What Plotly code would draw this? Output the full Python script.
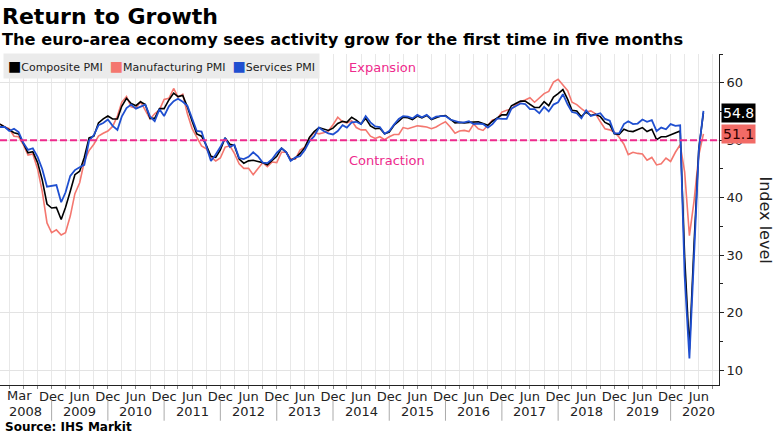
import pandas as pd
import plotly.graph_objects as go

# Monthly euro-area PMI readings, Jan 2008 .. Jul 2020
months = pd.date_range("2008-01-01", periods=151, freq="MS")

composite_pmi = [
    52.8, 52.3, 51.7, 51.3, 51.1, 49.3, 47.8, 48.0, 46.1, 43.1, 38.9, 38.2,  # 2008
    38.3, 36.2, 38.3, 41.1, 44.0, 44.6, 47.0, 50.4, 50.7, 53.0, 53.7, 54.2,  # 2009
    53.7, 53.7, 55.9, 57.3, 56.4, 56.0, 56.7, 56.2, 53.8, 53.8, 55.5, 55.5,  # 2010
    57.0, 58.2, 57.6, 57.8, 55.8, 53.3, 51.1, 50.7, 49.1, 47.2, 47.0, 48.3,  # 2011
    50.4, 49.3, 49.1, 46.7, 46.0, 46.4, 46.5, 46.3, 46.1, 45.7, 46.5, 47.2,  # 2012
    48.6, 47.9, 46.5, 46.9, 47.7, 48.7, 50.5, 51.5, 52.2, 51.9, 51.7, 52.1,  # 2013
    52.9, 53.3, 53.1, 54.0, 53.5, 52.8, 53.8, 52.5, 52.0, 52.1, 51.1, 51.4,  # 2014
    52.6, 53.3, 54.0, 53.9, 53.6, 54.2, 53.9, 54.3, 53.6, 53.9, 54.2, 54.3,  # 2015
    53.6, 53.0, 53.1, 53.0, 53.1, 53.1, 53.2, 52.9, 52.6, 53.3, 53.9, 54.4,  # 2016
    54.4, 56.0, 56.4, 56.8, 56.8, 56.3, 55.7, 55.7, 56.7, 56.0, 57.5, 58.1,  # 2017
    58.8, 57.1, 55.2, 55.1, 54.1, 54.9, 54.3, 54.5, 54.1, 53.1, 52.7, 51.1,  # 2018
    51.0, 51.9, 51.6, 51.5, 51.8, 52.2, 51.5, 51.9, 50.1, 50.6, 50.6, 50.9,  # 2019
    51.3, 51.6, 29.7, 13.6, 31.9, 48.5, 54.8,                                # 2020
]

manufacturing_pmi = [
    52.8, 52.3, 52.0, 50.7, 50.6, 49.2, 47.4, 47.6, 45.0, 41.1, 35.6, 33.9,
    34.4, 33.5, 33.9, 36.8, 40.7, 42.6, 46.3, 48.2, 49.3, 50.7, 51.2, 51.6,
    52.4, 54.2, 56.6, 57.6, 55.8, 55.6, 56.7, 55.1, 53.7, 54.6, 55.3, 57.1,
    57.3, 59.0, 57.5, 58.0, 54.6, 52.0, 50.4, 49.0, 48.5, 47.1, 46.4, 46.9,
    48.8, 49.0, 47.7, 45.9, 45.1, 45.1, 44.0, 45.1, 46.1, 45.4, 46.2, 46.1,
    47.9, 47.9, 46.8, 46.7, 48.3, 48.8, 50.3, 51.4, 51.1, 51.3, 51.6, 52.7,
    54.0, 53.2, 53.0, 53.4, 52.2, 51.8, 51.8, 50.7, 50.3, 50.6, 50.1, 50.6,
    51.0, 51.0, 52.2, 52.0, 52.2, 52.5, 52.4, 52.3, 52.0, 52.3, 52.8, 53.2,
    52.3, 51.2, 51.6, 51.7, 51.5, 52.8, 52.0, 51.7, 52.6, 53.5, 53.7, 54.9,
    55.2, 55.4, 56.2, 56.7, 57.0, 57.4, 56.6, 57.4, 58.1, 58.5, 60.1, 60.6,
    59.6, 58.6, 56.6, 56.2, 55.5, 54.9, 55.1, 54.6, 53.2, 52.0, 51.8, 51.4,
    50.5, 49.3, 47.5, 47.9, 47.7, 47.6, 46.5, 47.0, 45.7, 45.9, 46.9, 46.3,
    47.9, 49.2, 44.5, 33.4, 39.4, 47.4, 51.1,
]

services_pmi = [
    52.3, 52.3, 51.6, 52.0, 51.4, 49.5, 48.3, 48.6, 47.1, 45.0, 41.9, 42.1,
    42.2, 39.2, 40.9, 43.8, 44.8, 45.3, 45.7, 49.9, 50.9, 52.6, 53.0, 53.6,
    52.5, 51.8, 54.1, 55.6, 56.2, 55.5, 55.8, 56.2, 54.1, 53.3, 55.4, 54.2,
    55.9, 56.8, 57.2, 56.7, 56.0, 53.7, 51.6, 51.5, 48.8, 46.4, 47.5, 48.8,
    50.4, 48.8, 49.2, 46.9, 46.7, 47.1, 47.9, 47.2, 46.1, 46.0, 46.7, 47.8,
    48.6, 47.9, 46.4, 47.0, 47.2, 48.3, 49.8, 50.7, 52.2, 51.6, 51.2, 51.0,
    51.6, 52.6, 52.2, 53.1, 53.2, 52.8, 54.2, 53.1, 52.4, 52.3, 51.1, 51.6,
    52.7, 53.7, 54.2, 54.1, 53.8, 54.4, 54.0, 54.4, 53.7, 54.1, 54.2, 54.2,
    53.6, 53.3, 53.1, 53.1, 53.3, 52.8, 52.9, 52.8, 52.2, 52.8, 53.8, 53.7,
    53.7, 55.5, 56.0, 56.4, 56.3, 55.4, 55.4, 54.7, 55.8, 55.0, 56.2, 56.6,
    58.0, 56.2, 54.9, 54.7, 53.8, 55.2, 54.2, 54.4, 54.7, 53.7, 53.4, 51.2,
    51.2, 52.8, 53.3, 52.8, 52.9, 53.6, 53.2, 53.5, 51.6, 52.2, 51.9, 52.8,
    52.5, 52.6, 26.4, 12.0, 30.5, 48.3, 55.1,
]

# x-axis labelling
tick_dates = ["2008-12-01", "2009-06-01", "2009-12-01", "2010-06-01", "2010-12-01",
              "2011-06-01", "2011-12-01", "2012-06-01", "2012-12-01", "2013-06-01",
              "2013-12-01", "2014-06-01", "2014-12-01", "2015-06-01", "2015-12-01",
              "2016-06-01", "2016-12-01", "2017-06-01", "2017-12-01", "2018-06-01",
              "2018-12-01", "2019-06-01", "2019-12-01", "2020-06-01"]
tick_text = ["Dec", "Jun"] * 12
year_labels = [str(y) for y in range(2008, 2021)]
year_centers = ["2008-06-15"] + [f"{y}-06-01" for y in range(2009, 2021)]
year_breaks = [f"{y}-12-01" for y in range(2008, 2020)]

COMP = "#000000"
MFG = "#f4776f"
SERV = "#1f4fd0"
PINK = "#ee2a8c"
FONT = "DejaVu Sans"

fig = go.Figure()
fig.add_trace(go.Scatter(x=months, y=manufacturing_pmi, mode="lines",
                         name="Manufacturing PMI", line=dict(color=MFG, width=1.6)))
fig.add_trace(go.Scatter(x=months, y=composite_pmi, mode="lines",
                         name="Composite PMI", line=dict(color=COMP, width=1.6)))
fig.add_trace(go.Scatter(x=months, y=services_pmi, mode="lines",
                         name="Services PMI", line=dict(color=SERV, width=1.8)))

# 50 = expansion / contraction threshold
fig.add_shape(type="line", xref="paper", x0=0, x1=1, yref="y", y0=50, y1=50,
              line=dict(color=PINK, width=2, dash="7px,3px"))


def swatch(color):
    return f'<span style="color:{color};font-size:14px">■</span>'


annotations = [
    dict(text="<b>Return to Growth</b>", xref="paper", yref="paper", x=0, y=1.113,
         xanchor="left", yanchor="middle", showarrow=False,
         font=dict(family=FONT, size=22, color="#000")),
    dict(text="<b>The euro-area economy sees activity grow for the first time in five months</b>",
         xref="paper", yref="paper", x=0, y=1.045, xanchor="left", yanchor="middle",
         showarrow=False, font=dict(family=FONT, size=16.2, color="#000")),
    dict(text="<b>Source: IHS Markit</b>", xref="paper", yref="paper", x=0, y=-0.127,
         xanchor="left", yanchor="middle", xshift=3, showarrow=False,
         font=dict(family=FONT, size=12, color="#000")),
    dict(text=(f"{swatch(COMP)}Composite PMI  "
               f"{swatch(MFG)}Manufacturing PMI  "
               f"{swatch(SERV)}Services PMI"),
         xref="paper", yref="paper", x=0, y=1, xanchor="left", yanchor="top",
         xshift=3, yshift=1, showarrow=False, bgcolor="#ebebeb", borderpad=4,
         font=dict(family=FONT, size=11, color="#222")),
    dict(text="Expansion", xref="x", yref="y", x="2014-03-01", y=62.6,
         xanchor="left", yanchor="middle", showarrow=False,
         font=dict(family=FONT, size=13, color=PINK)),
    dict(text="Contraction", xref="x", yref="y", x="2014-03-01", y=46.4,
         xanchor="left", yanchor="middle", showarrow=False,
         font=dict(family=FONT, size=13, color=PINK)),
    dict(text="Index level", xref="paper", yref="paper", x=1, y=0.5, xshift=46,
         xanchor="center", yanchor="middle", textangle=90, showarrow=False,
         font=dict(family=FONT, size=16, color="#222")),
    dict(text="Mar", xref="x", yref="paper", x="2008-03-01", y=-0.032,
         xanchor="left", yanchor="middle", xshift=-4, showarrow=False,
         font=dict(family=FONT, size=13, color="#222")),
    dict(text=f"{composite_pmi[-1]}", xref="paper", yref="y", x=1, y=composite_pmi[-1],
         xanchor="left", yanchor="middle", xshift=2, showarrow=False,
         bgcolor="#000000", borderpad=1, font=dict(family=FONT, size=14, color="#ffffff")),
    dict(text=f"{manufacturing_pmi[-1]}", xref="paper", yref="y", x=1,
         y=manufacturing_pmi[-1], xanchor="left", yanchor="middle", xshift=2,
         showarrow=False, bgcolor="#f26b66", borderpad=1,
         font=dict(family=FONT, size=14, color="#300000")),
]
for label, center in zip(year_labels, year_centers):
    annotations.append(dict(text=label, xref="x", yref="paper", x=center, y=-0.081,
                            xanchor="center", yanchor="middle", showarrow=False,
                            font=dict(family=FONT, size=13, color="#222")))
for brk in year_breaks:
    fig.add_shape(type="line", xref="x", yref="paper", x0=brk, x1=brk,
                  y0=-0.048, y1=-0.108, line=dict(color="#aaaaaa", width=1))

fig.update_layout(
    width=775,
    height=435,
    margin=dict(l=0, r=56, t=54, b=50),
    plot_bgcolor="#ffffff",
    paper_bgcolor="#ffffff",
    showlegend=False,
    annotations=annotations,
    font=dict(family=FONT, color="#222"),
)
fig.update_xaxes(
    type="date",
    range=["2008-01-01", "2020-10-10"],
    tickvals=tick_dates,
    ticktext=tick_text,
    tickfont=dict(size=13, color="#222"),
    ticks="outside",
    ticklen=3,
    tickcolor="#888",
    ticklabelstandoff=-4,
    showgrid=True,
    gridcolor="#e8e8e8",
    showline=True,
    linecolor="#222",
    linewidth=1,
    zeroline=False,
    minor=dict(tick0="2008-03-01", dtick="M3", showgrid=True, gridcolor="#e8e8e8",
               ticks="outside", ticklen=3, tickcolor="#888"),
)
fig.update_yaxes(
    side="right",
    range=[7.4, 65],
    tick0=0,
    dtick=10,
    tickfont=dict(size=13, color="#222"),
    ticks="outside",
    ticklen=4,
    tickcolor="#222",
    showgrid=True,
    gridcolor="#e3e3e3",
    showline=True,
    linecolor="#222",
    linewidth=1,
    zeroline=False,
    minor=dict(dtick=5, tick0=0, ticks="outside", ticklen=3, tickcolor="#222", showgrid=False),
)

# the page body has a default 8px margin; drop it so the figure fills the window
fig.write_html("out.html", config={"displayModeBar": False},
               post_script="document.body.style.margin='0';")
